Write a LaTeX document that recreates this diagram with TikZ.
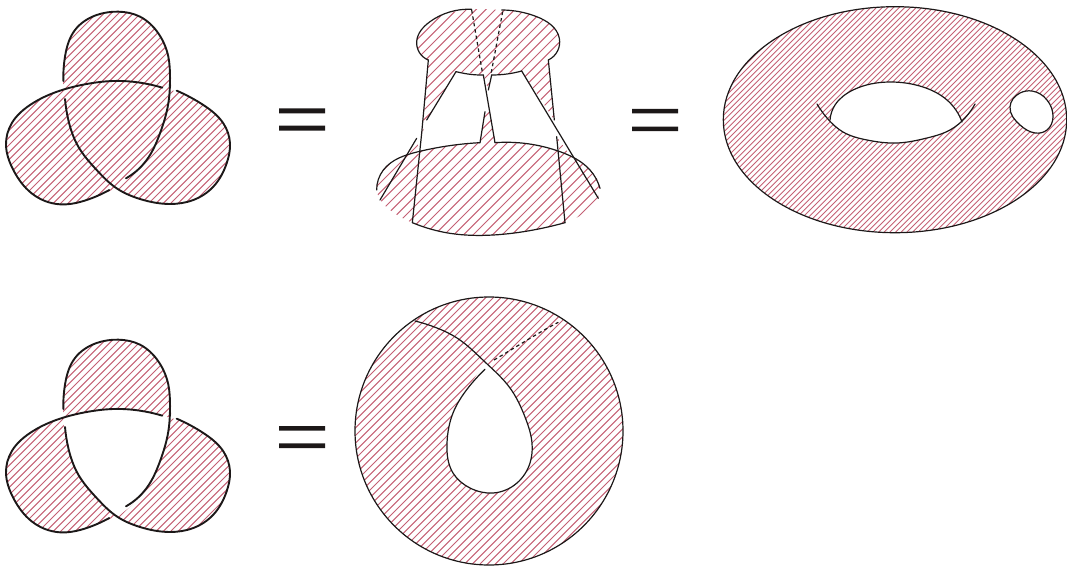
\documentclass[tikz,border=0pt]{standalone}
\usetikzlibrary{hobby}
\definecolor{hatchred}{RGB}{196,96,116}
\definecolor{ink}{RGB}{28,24,24}
\tikzset{
  knotline/.style={ink,line width=1.9pt,line cap=round,use Hobby shortcut},
  thinline/.style={ink,line width=1.2pt,line cap=round},
  curveline/.style={thinline,use Hobby shortcut},
  dashline/.style={ink,line width=1.2pt,dash pattern=on 3.5pt off 3pt},
  hatchline/.style={hatchred,line width=1pt},
  finehatch/.style={hatchline/.append style={line width=0.85pt}},
  eqbar/.style={fill=ink,draw=none},
  z3/.style={x=0.33333pt,y=-0.33333pt}
}
% #1 = horizontal spacing in zoom units
\newcommand\hatchfield[1]{%
  \pgfmathsetmacro\nxt{-1400+#1}%
  \foreach \c in {-1400,\nxt,...,3000}{
    \draw[hatchline] (\c,1400) -- (\c+1400,0);
  }}
\newcommand\knotoutline{(190,272) .. (195,170) .. (225,90) .. (290,45) .. (355,35) .. (420,50) .. (475,100) .. (505,170) .. (512,272) -- (530,272) .. (610,315) .. (670,370) .. (690,430) .. (680,490) .. (640,560) .. (580,600) .. (510,612) .. (420,597) .. (345,565) -- (345,565) .. (260,600) .. (180,613) .. (95,580) .. (40,510) .. (18,435) .. (35,370) .. (90,315) .. (190,272) -- cycle}
\newcommand\knotstrands{%
  \draw[knotline] (190,243) .. (195,170) .. (225,90) .. (290,45) .. (355,35) .. (420,50) .. (475,100) .. (505,170) .. (510,230) .. (505,310) .. (480,400) .. (440,480) .. (378,535);
  \draw[knotline] (487,263) .. (420,248) .. (340,243) .. (260,252) .. (180,272) .. (90,315) .. (35,370) .. (18,435) .. (40,510) .. (95,580) .. (180,613) .. (260,600) .. (328,570);
  \draw[knotline] (195,297) .. (205,360) .. (235,440) .. (290,510) .. (350,565) .. (420,597) .. (510,612) .. (580,600) .. (640,560) .. (680,490) .. (690,430) .. (670,370) .. (610,315) .. (530,272);
}
\begin{document}
\begin{tikzpicture}[x=1pt,y=-1pt]
\useasboundingbox (0,0) rectangle (1067,567);
% top knot
\begin{scope}[shift={(0,0)},z3]
  \begin{scope}\clip[use Hobby shortcut] \knotoutline; \hatchfield{22} \end{scope}
  \knotstrands
\end{scope}
% lower knot
\begin{scope}[shift={(0,328)},z3]
  \begin{scope}\clip[use Hobby shortcut] \knotoutline; \hatchfield{22} \end{scope}
  \fill[white,use Hobby shortcut] (190,275) .. (260,252) .. (340,243) .. (420,248) .. (510,270) -- (510,270) .. (505,310) .. (480,400) .. (440,480) .. (350,565) -- (350,565) .. (290,510) .. (235,440) .. (205,360) .. (190,275) -- cycle;
  \knotstrands
\end{scope}
% equals
\fill[eqbar] (279,108.5) rectangle (325,113.5) (279,125.7) rectangle (325,130.7);
\fill[eqbar] (279,426) rectangle (325,430.7) (279,443.3) rectangle (325,448);
\fill[eqbar] (632,109) rectangle (678,113.3) (632,126.5) rectangle (678,131);
% disc-band surface
\begin{scope}[shift={(360,0)},z3]
  \begin{scope}
    \clip[use Hobby shortcut] (205,180) .. (170,125) .. (210,65) .. (335,28) .. (425,30) .. (530,50) .. (598,115) .. (565,180) -- (583,360) -- (485,213) -- (395,225) -- (385,270) -- (370,225) -- (288,215) -- (200,360) -- (187,400) -- cycle
      (375,335) -- (360,428) -- (405,428) -- (390,335) -- cycle
      ([closed]50,570) .. (70,510) .. (175,455) .. (360,428) .. (405,428) .. (600,455) .. (690,510) .. (720,565) .. (690,625) .. (615,668) .. (520,690) .. (400,705) .. (270,700) .. (157,668) .. (90,630)
      (170,415) -- (140,480) -- (178,460) -- cycle
      (590,410) -- (640,480) -- (600,460) -- cycle;
    \hatchfield{29}
  \end{scope}
  \draw[curveline] (205,180) .. (170,125) .. (210,65) .. (335,28);
  \draw[curveline] (425,30) .. (530,50) .. (598,115) .. (565,180);
  \draw[thinline] (205,180) -- (185,400) -- (157,668);
  \draw[curveline] (157,668) .. (270,700) .. (400,705) .. (520,690) .. (615,668);
  \draw[thinline] (590,410) -- (615,668);
  \draw[curveline] (50,570) .. (70,510) .. (175,455) .. (360,428);
  \draw[curveline] (405,428) .. (600,455) .. (690,510) .. (720,565);
  \draw[thinline] (60,600) -- (170,415);
  \draw[thinline] (565,180) -- (583,360);
  \draw[thinline] (485,213) -- (715,595);
  \draw[thinline] (288,215) .. controls (330,225) and (350,225) .. (370,225);
  \draw[thinline] (395,225) .. controls (430,225) and (460,220) .. (485,213);
  \draw[thinline] (288,215) -- (200,360);
  \draw[thinline] (370,225) -- (405,428);
  \draw[thinline] (395,225) -- (385,270);
  \draw[thinline] (375,335) -- (360,428);
  \draw[dashline] (335,30) -- (368,222);
  \draw[dashline] (428,35) -- (393,222);
\end{scope}
% torus
\begin{scope}[finehatch]
  \clip (895,119.7) ellipse[x radius=171.7,y radius=113];
  \begin{scope}[z3]\hatchfield{17}\end{scope}
\end{scope}
\fill[white,use Hobby shortcut] (830,120) .. (835,105) .. (853,90) .. (890,82) .. (923,87) .. (947,100) .. (962,122) -- (962,122) .. (950,130) .. (927,138) .. (897,143) .. (867,140) .. (843,132) .. (830,120) -- cycle;
\draw[curveline,fill=white] ([closed]1010,107) .. (1020,93) .. (1032,91) .. (1047,100) .. (1053,117) .. (1047,130) .. (1035,133) .. (1020,125);
\draw[thinline] (895,119.7) ellipse[x radius=171.7,y radius=113];
\draw[curveline] (830,120) .. (835,105) .. (853,90) .. (890,82) .. (923,87) .. (947,100) .. (962,122);
\draw[curveline] (817,104) .. (827,118) .. (843,132) .. (867,140) .. (897,143) .. (927,138) .. (950,130) .. (965,118) .. (975,104);
% ring
\begin{scope}[shift={(340,290)},z3]
  \begin{scope}
    \clip (447,423) circle[radius=402];
    \hatchfield{23}
  \end{scope}
  \draw[thinline] (447,423) circle[radius=402];
\end{scope}
\fill[white,use Hobby shortcut] (485,362) .. (510,388) .. (525,417) .. (532,443) .. (530,463) .. (517,483) .. (493,493) .. (470,488) .. (453,473) .. (447,443) .. (453,413) .. (468,388) .. (485,362) -- cycle;
\draw[curveline] (485,369.3) .. (468,388) .. (453,413) .. (447,443) .. (453,473) .. (470,488) .. (493,493) .. (517,483) .. (530,463) .. (532,443) .. (525,417) .. (510,388) .. (485,362) .. (457,338) .. (437,328) .. (415,321);
\begin{scope}[shift={(340,290)},z3]
  \draw[dashline] (462,210) .. controls (530,170) and (600,125) .. (655,97);
\end{scope}
\end{tikzpicture}
\end{document}
